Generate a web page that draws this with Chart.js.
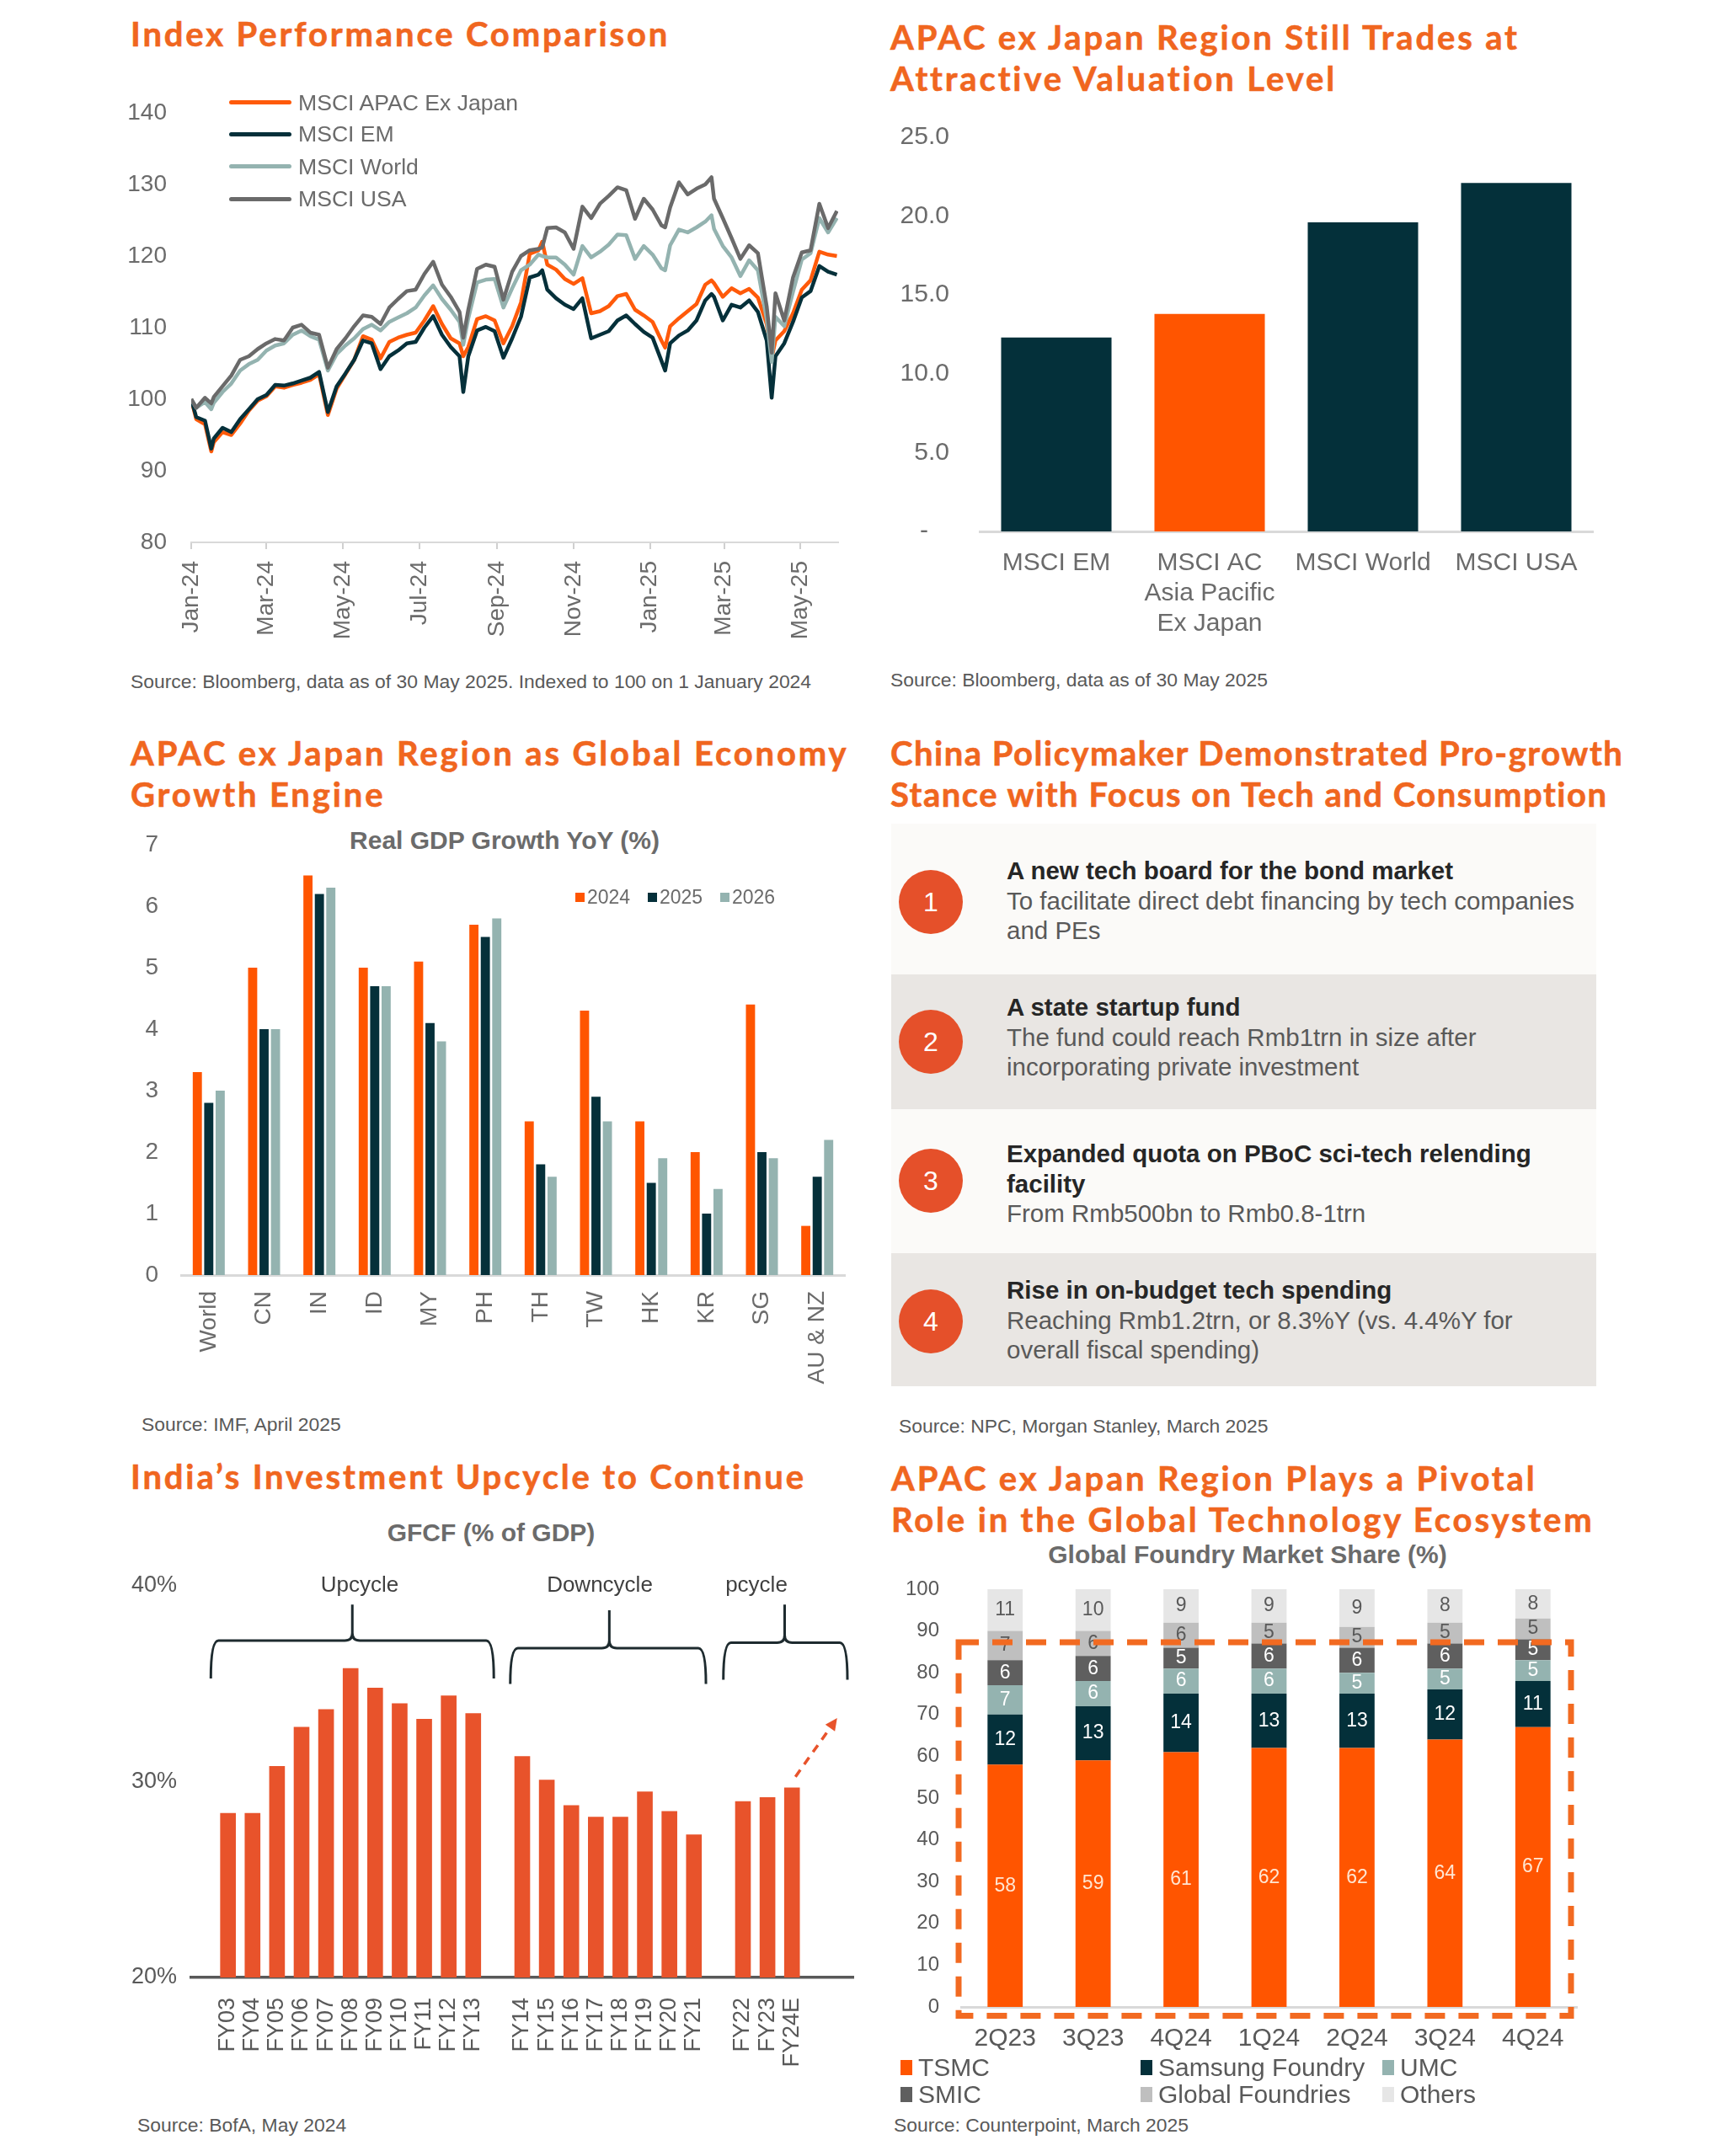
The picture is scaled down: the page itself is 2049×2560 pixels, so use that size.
<!DOCTYPE html>
<html>
<head>
<meta charset="utf-8">
<script src="https://cdn.jsdelivr.net/npm/chart.js@4.4.1/dist/chart.umd.min.js"></script>
<style>
  html, body { margin: 0; padding: 0; background: #fff; }
  body { width: 2049px; height: 2560px; position: relative; overflow: hidden; font-family: "Liberation Sans", Arial, sans-serif; }
  canvas { position: absolute; }
  .title { position: absolute; font-family: Lato, sans-serif; font-weight: 700; font-size: 40px; line-height: 49px; letter-spacing: 2.85px;
    color: #F0661F; -webkit-text-stroke: 0.6px #F0661F; white-space: nowrap; }
  .src { position: absolute; font-size: 22.9px; line-height: 26px; color: #595959; white-space: nowrap; }
  .sub { position: absolute; width: 700px; text-align: center; font-weight: 700; font-size: 30px; line-height: 36px; color: #6b6b6b; white-space: nowrap; }
  .abs { position: absolute; white-space: nowrap; }
</style>
</head>
<body>

<div class="title" style="left:155px; top:16px;">Index Performance Comparison</div>
<div class="title" style="left:1057px; top:20px;">APAC ex Japan Region Still Trades at<br>Attractive Valuation Level</div>
<div class="title" style="left:155px; top:870px;">APAC ex Japan Region as Global Economy<br>Growth Engine</div>
<div class="title" style="left:1057px; top:870px; letter-spacing:1.5px;">China Policymaker Demonstrated Pro-growth<br>Stance with Focus on Tech and Consumption</div>
<div class="title" style="left:155px; top:1729px;">India’s Investment Upcycle to Continue</div>
<div class="title" style="left:1058px; top:1731px;">APAC ex Japan Region Plays a Pivotal<br>Role in the Global Technology Ecosystem</div>

<div class="src" style="left:155px; top:796px;">Source: Bloomberg, data as of 30 May 2025. Indexed to 100 on 1 January 2024</div>
<div class="src" style="left:1057px; top:794px;">Source: Bloomberg, data as of 30 May 2025</div>
<div class="src" style="left:168px; top:1678px;">Source: IMF, April 2025</div>
<div class="src" style="left:1067px; top:1680px;">Source: NPC, Morgan Stanley, March 2025</div>
<div class="src" style="left:163px; top:2510px;">Source: BofA, May 2024</div>
<div class="src" style="left:1061px; top:2510px;">Source: Counterpoint, March 2025</div>

<div class="sub" style="left:249px; top:980px;">Real GDP Growth YoY (%)</div>
<div class="sub" style="left:233px; top:1802px;">GFCF (% of GDP)</div>
<div class="sub" style="left:1131px; top:1828px;">Global Foundry Market Share (%)</div>

<canvas id="perf" width="880" height="690" style="left:140px; top:100px;"></canvas>
<canvas id="pe" width="900" height="640" style="left:1040px; top:130px;"></canvas>
<canvas id="gdp" width="880" height="720" style="left:140px; top:960px;"></canvas>
<canvas id="gfcf" width="900" height="660" style="left:140px; top:1850px;"></canvas>
<canvas id="foundry" width="900" height="580" style="left:1040px; top:1860px;"></canvas>

<div id="policy"></div>
<div id="legends"></div>

<script>
// ---- Index performance (weekly closes, indexed to 100) ----
const perfDates = ['2024-01-01','2024-01-05','2024-01-12','2024-01-17','2024-01-19','2024-01-26','2024-02-02','2024-02-09','2024-02-16','2024-02-23',
  '2024-03-01','2024-03-08','2024-03-15','2024-03-22','2024-03-29','2024-04-05','2024-04-12','2024-04-19','2024-04-26','2024-05-03',
  '2024-05-10','2024-05-17','2024-05-24','2024-05-31','2024-06-07','2024-06-14','2024-06-21','2024-06-28','2024-07-05','2024-07-12',
  '2024-07-19','2024-07-26','2024-08-02','2024-08-05','2024-08-09','2024-08-16','2024-08-23','2024-08-30','2024-09-06','2024-09-13',
  '2024-09-20','2024-09-27','2024-10-04','2024-10-07','2024-10-11','2024-10-18','2024-10-25','2024-11-01','2024-11-08','2024-11-15',
  '2024-11-22','2024-11-29','2024-12-06','2024-12-13','2024-12-20','2024-12-27','2025-01-03','2025-01-10','2025-01-13','2025-01-17',
  '2025-01-24','2025-01-31','2025-02-07','2025-02-14','2025-02-19','2025-02-21','2025-02-28','2025-03-07','2025-03-14','2025-03-21',
  '2025-03-28','2025-04-04','2025-04-08','2025-04-11','2025-04-18','2025-04-25','2025-05-02','2025-05-09','2025-05-16','2025-05-23',
  '2025-05-30'];
const apacExJapan = [100, 97.2, 96.5, 92.7, 94.0, 95.4, 95.0, 96.6, 98.4, 99.8,
  100.4, 101.8, 101.6, 102.0, 102.3, 102.7, 103.5, 97.8, 101.5, 103.5,
  105.5, 108.8, 108.3, 105.7, 108.0, 108.6, 109.0, 109.3, 111.0, 113.0,
  110.5, 108.5, 107.8, 106.0, 107.3, 111.2, 111.6, 111.0, 107.8, 110.2,
  113.5, 120.3, 120.8, 122.0, 118.8, 118.1, 116.8, 116.1, 116.9, 112.0,
  112.3, 113.0, 114.4, 114.7, 112.5, 111.7, 110.8, 108.2, 107.2, 110.2,
  111.3, 112.3, 113.3, 116.0, 116.6, 116.2, 114.3, 115.5, 114.8, 115.4,
  114.2, 110.5, 105.8, 108.2, 109.5, 112.0, 115.3, 116.6, 120.6, 120.2,
  120.0];
const msciEm = [100, 97.5, 97.0, 93.1, 94.5, 96.0, 95.4, 97.2, 98.6, 100.0,
  100.6, 102.0, 101.9, 102.2, 102.6, 103.0, 103.8, 98.2, 101.8, 103.6,
  105.5, 108.2, 107.8, 104.2, 106.0, 106.8, 107.8, 108.0, 110.0, 111.6,
  109.0, 107.3, 106.0, 101.0, 106.0, 109.6, 110.1, 109.5, 105.8, 108.5,
  111.5, 117.0, 117.4, 118.0, 115.3, 114.1, 113.2, 112.6, 114.1, 108.5,
  109.0, 109.5, 111.0, 111.7, 110.5, 109.4, 108.6, 105.4, 104.0, 107.8,
  108.9, 109.6, 111.0, 113.8, 114.7, 114.3, 111.0, 113.2, 112.8, 113.8,
  112.2, 108.2, 100.2, 106.0, 107.8, 110.8, 114.2, 115.1, 118.6, 117.8,
  117.4];
const msciWorld = [100, 98.8, 99.6, 98.6, 99.5, 101.0, 102.2, 104.0, 104.9, 105.5,
  106.8, 107.5, 107.8, 109.0, 109.6, 108.8, 108.3, 104.0, 106.3, 107.5,
  108.5, 109.8, 110.4, 109.6, 110.8, 111.4, 112.0, 112.8, 114.5, 115.9,
  114.0, 112.5, 110.8, 107.6, 111.3, 116.3, 116.7, 116.8, 112.8, 115.5,
  118.0, 118.8, 120.2, 120.0, 119.8, 119.8, 118.8, 117.4, 121.4, 119.8,
  120.6, 121.6, 123.0, 122.9, 119.6, 121.4, 120.2, 118.3, 118.0, 121.5,
  123.7, 123.3, 124.0, 124.8, 125.7, 123.8, 121.4, 119.8, 117.2, 119.4,
  118.0, 111.2, 105.2, 111.5, 110.2, 115.0, 119.5, 120.4, 125.3, 123.3,
  125.3];
const msciUsa = [100, 98.8, 100.2, 99.4, 100.3, 101.8, 103.3, 105.5, 106.0, 107.0,
  107.8, 108.4, 108.2, 110.0, 110.4, 109.3, 109.0, 104.4, 107.0, 108.5,
  110.2, 111.7, 111.5, 110.5, 112.8, 114.0, 115.1, 115.3, 117.5, 119.2,
  116.0, 114.3, 112.2, 108.6, 112.5, 118.2, 118.8, 118.5, 113.9, 117.8,
  120.0, 120.8, 121.0, 121.2, 123.9, 124.0, 123.3, 121.0, 126.9, 125.3,
  127.3, 128.4, 129.6, 129.2, 125.2, 128.0, 126.5, 124.3, 124.0, 126.8,
  130.3, 128.6, 129.4, 130.0, 131.0, 128.0, 125.3, 122.5, 119.6, 121.5,
  120.4, 113.0, 106.5, 114.8, 111.0, 117.0, 120.5, 120.8, 127.3, 123.9,
  126.3];
const perfTickDates = ['2024-01-01','2024-03-01','2024-05-01','2024-07-01','2024-09-01','2024-11-01','2025-01-01','2025-03-01','2025-05-01'];
const perfTickLabels = ['Jan-24','Mar-24','May-24','Jul-24','Sep-24','Nov-24','Jan-25','Mar-25','May-25'];
const perfNames = ['MSCI APAC Ex Japan', 'MSCI EM', 'MSCI World', 'MSCI USA'];

// ---- Valuation (P/E) ----
const peLabels = [['MSCI EM'], ['MSCI AC', 'Asia Pacific', 'Ex Japan'], ['MSCI World'], ['MSCI USA']];
const peValues = [12.3, 13.8, 19.6, 22.1];

// ---- Real GDP growth ----
const gdpCountries = ['World', 'CN', 'IN', 'ID', 'MY', 'PH', 'TH', 'TW', 'HK', 'KR', 'SG', 'AU & NZ'];
const gdpYears = ['2024', '2025', '2026'];
const gdp2024 = [3.3, 5.0, 6.5, 5.0, 5.1, 5.7, 2.5, 4.3, 2.5, 2.0, 4.4, 0.8];
const gdp2025 = [2.8, 4.0, 6.2, 4.7, 4.1, 5.5, 1.8, 2.9, 1.5, 1.0, 2.0, 1.6];
const gdp2026 = [3.0, 4.0, 6.3, 4.7, 3.8, 5.8, 1.6, 2.5, 1.9, 1.4, 1.9, 2.2];

// ---- India GFCF (% of GDP); blanks separate the cycles ----
const gfcfYears = ['', 'FY03', 'FY04', 'FY05', 'FY06', 'FY07', 'FY08', 'FY09', 'FY10', 'FY11', 'FY12', 'FY13', '',
  'FY14', 'FY15', 'FY16', 'FY17', 'FY18', 'FY19', 'FY20', 'FY21', '', 'FY22', 'FY23', 'FY24E', '', ''];
const gfcfValues = [null, 28.4, 28.4, 30.8, 32.8, 33.7, 35.8, 34.8, 34.0, 33.2, 34.4, 33.5, null,
  31.3, 30.1, 28.8, 28.2, 28.2, 29.5, 28.5, 27.3, null, 29.0, 29.2, 29.7, null, null];

// ---- Foundry market share ----
const foundryQuarters = ['2Q23', '3Q23', '4Q24', '1Q24', '2Q24', '3Q24', '4Q24'];
const foundryNames = ['TSMC', 'Samsung Foundry', 'UMC', 'SMIC', 'Global Foundries', 'Others'];
const tsmc = [58, 59, 61, 62, 62, 64, 67];
const samsung = [12, 13, 14, 13, 13, 12, 11];
const umc = [7, 6, 6, 6, 5, 5, 5];
const smic = [6, 6, 5, 6, 6, 6, 5];
const globalFoundries = [7, 6, 6, 5, 5, 5, 5];
const others = [11, 10, 9, 9, 9, 8, 8];

// ---- Policy list ----
const policyHeads = [['A new tech board for the bond market'], ['A state startup fund'],
  ['Expanded quota on PBoC sci-tech relending', 'facility'], ['Rise in on-budget tech spending']];
const policyNotes = [['To facilitate direct debt financing by tech companies', 'and PEs'],
  ['The fund could reach Rmb1trn in size after', 'incorporating private investment'],
  ['From Rmb500bn to Rmb0.8-1trn'],
  ['Reaching Rmb1.2trn, or 8.3%Y (vs. 4.4%Y for', 'overall fiscal spending)']];

const ORANGE = '#FF5A0A', DARK = '#05303A', TEAL = '#94B3B0', GREY = '#6A6A6A';

Chart.defaults.font.family = '"Liberation Sans", Arial, sans-serif';
Chart.defaults.color = '#6b6b6b';
Chart.defaults.animation = false;
Chart.defaults.responsive = false;
Chart.defaults.plugins.legend.display = false;
Chart.defaults.plugins.tooltip.enabled = false;

const noGrid = { display: false, drawTicks: false };
// fixed axis sizes so the plot areas land where the reference has them
const yFit = w => s => { s.width = w; s.paddingTop = 0; s.paddingBottom = 0; };
const xFit = h => s => { s.height = h; s.paddingLeft = 0; s.paddingRight = 0; };

// ---------- chart 1: index performance ----------
const dayOf = d => (Date.parse(d) - Date.parse('2024-01-01')) / 86400000;
const toXY = vals => perfDates.map((d, i) => ({ x: dayOf(d), y: vals[i] }));
const perfColors = [ORANGE, DARK, TEAL, GREY];
const perfSeries = [apacExJapan, msciEm, msciWorld, msciUsa];

new Chart(document.getElementById('perf'), {
  type: 'line',
  data: {
    datasets: perfSeries.map((s, i) => ({
      label: perfNames[i], data: toXY(s), borderColor: perfColors[i], order: 4 - i
    }))
  },
  options: {
    layout: { padding: { top: 34, right: 25 } },
    elements: { point: { radius: 0 }, line: { borderWidth: 4.5, tension: 0, borderJoinStyle: 'round' } },
    scales: {
      x: {
        type: 'linear', min: 0, max: 516,
        afterBuildTicks: s => { s.ticks = perfTickDates.map(d => ({ value: dayOf(d) })); },
        afterFit: xFit(146),
        grid: { drawOnChartArea: false, tickLength: 8, color: '#d0d0d0', lineWidth: 2 },
        border: { color: '#d9d9d9', width: 2 },
        ticks: { autoSkip: false, minRotation: 90, maxRotation: 90, padding: 14, font: { size: 28 },
          callback: (v, i) => perfTickLabels[i] }
      },
      y: {
        min: 80, max: 140,
        afterFit: yFit(87),
        grid: noGrid, border: { display: false },
        ticks: { stepSize: 10, padding: 29, font: { size: 28 } }
      }
    }
  }
});

// ---------- chart 2: valuation ----------
new Chart(document.getElementById('pe'), {
  type: 'bar',
  data: {
    labels: peLabels,
    datasets: [{ data: peValues, backgroundColor: peValues.map((v, i) => i === 1 ? '#FF5500' : '#04303A'),
      categoryPercentage: 0.8, barPercentage: 0.9 }]
  },
  options: {
    layout: { padding: { top: 33, right: 49 } },
    scales: {
      x: {
        grid: noGrid, border: { color: '#d9d9d9', width: 3 },
        afterFit: xFit(139),
        ticks: { padding: 20, maxRotation: 0, font: { size: 30 } }
      },
      y: {
        min: 0, max: 25,
        afterFit: yFit(123),
        grid: noGrid, border: { display: false },
        ticks: { stepSize: 5, padding: 36, font: { size: 30 }, callback: v => v === 0 ? '-   ' : v.toFixed(1) }
      }
    }
  }
});

// ---------- chart 3: GDP growth ----------
const gdpColors = ['#FF5500', '#05303A', '#94B3B0'];
new Chart(document.getElementById('gdp'), {
  type: 'bar',
  data: {
    labels: gdpCountries,
    datasets: [gdp2024, gdp2025, gdp2026].map((s, i) => ({
      label: gdpYears[i], data: s, backgroundColor: gdpColors[i], categoryPercentage: 0.62, barPercentage: 0.8
    }))
  },
  options: {
    layout: { padding: { top: 43, right: 17 } },
    scales: {
      x: {
        grid: noGrid, border: { color: '#d9d9d9', width: 3 },
        afterFit: xFit(166),
        ticks: { minRotation: 90, maxRotation: 90, padding: 19, font: { size: 28 } }
      },
      y: {
        min: 0, max: 7,
        afterFit: yFit(75),
        grid: noGrid, border: { display: false },
        ticks: { stepSize: 1, padding: 27, font: { size: 28 } }
      }
    }
  }
});

// ---------- chart 4: GFCF ----------
const gfcfBrackets = [
  { label: 'Upcycle', from: 0.3, to: 11.84, stem: 6.07, labelAt: 6.37, bar: 37.2, end: 35.27, top: 39.04 },
  { label: 'Downcycle', from: 12.51, to: 20.49, stem: 16.55, labelAt: 16.16, bar: 36.82, end: 34.99, top: 38.75 },
  { label: 'pcycle', from: 21.2, to: 26.26, stem: 23.7, labelAt: 22.55, bar: 37.1, end: 35.2, top: 39.04 }
];
const gfcfArrow = { fromX: 24.14, fromY: 30.25, toX: 25.84, toY: 33.25 };

const gfcfNotes = {
  id: 'gfcfNotes',
  afterDatasetsDraw(chart) {
    const { ctx, scales: { x, y } } = chart;
    ctx.save();
    ctx.strokeStyle = '#1e2b2f';
    ctx.lineWidth = 3;
    ctx.lineJoin = 'round';
    ctx.font = '26px "Liberation Sans", Arial, sans-serif';
    ctx.fillStyle = '#404040';
    ctx.textAlign = 'center';
    ctx.textBaseline = 'middle';
    gfcfBrackets.forEach(b => {
      const x0 = x.getPixelForValue(b.from), x1 = x.getPixelForValue(b.to), xm = x.getPixelForValue(b.stem);
      const yb = y.getPixelForValue(b.bar), ye = y.getPixelForValue(b.end), yt = y.getPixelForValue(b.top);
      const r = 9;
      ctx.beginPath();
      ctx.moveTo(x0, ye);
      ctx.quadraticCurveTo(x0, yb, x0 + r, yb);
      ctx.lineTo(xm - r, yb);
      ctx.quadraticCurveTo(xm, yb, xm, yb - r);
      ctx.lineTo(xm, yt);
      ctx.moveTo(xm, yb - r);
      ctx.quadraticCurveTo(xm, yb, xm + r, yb);
      ctx.lineTo(x1 - r, yb);
      ctx.quadraticCurveTo(x1, yb, x1, ye);
      ctx.stroke();
      ctx.fillText(b.label, x.getPixelForValue(b.labelAt), y.getPixelForValue(40));
    });
    // dashed arrow
    const ax0 = x.getPixelForValue(gfcfArrow.fromX), ay0 = y.getPixelForValue(gfcfArrow.fromY);
    const ax1 = x.getPixelForValue(gfcfArrow.toX), ay1 = y.getPixelForValue(gfcfArrow.toY);
    const ang = Math.atan2(ay1 - ay0, ax1 - ax0), head = 16;
    ctx.strokeStyle = '#E8532B';
    ctx.fillStyle = '#E8532B';
    ctx.lineWidth = 3.5;
    ctx.setLineDash([10, 8]);
    ctx.beginPath();
    ctx.moveTo(ax0, ay0);
    ctx.lineTo(ax1 - head * Math.cos(ang), ay1 - head * Math.sin(ang));
    ctx.stroke();
    ctx.setLineDash([]);
    ctx.beginPath();
    ctx.moveTo(ax1, ay1);
    ctx.lineTo(ax1 - head * Math.cos(ang - 0.45), ay1 - head * Math.sin(ang - 0.45));
    ctx.lineTo(ax1 - head * Math.cos(ang + 0.45), ay1 - head * Math.sin(ang + 0.45));
    ctx.closePath();
    ctx.fill();
    ctx.restore();
  }
};

new Chart(document.getElementById('gfcf'), {
  type: 'bar',
  data: {
    labels: gfcfYears,
    datasets: [{ data: gfcfValues, backgroundColor: '#E8532B', categoryPercentage: 1, barPercentage: 0.64 }]
  },
  options: {
    layout: { padding: { top: 33, right: 27 } },
    scales: {
      x: {
        grid: noGrid, border: { color: '#595959', width: 3.5 },
        afterFit: xFit(162),
        ticks: { autoSkip: false, minRotation: 90, maxRotation: 90, padding: 24, font: { size: 27 }, color: '#595959' }
      },
      y: {
        min: 20, max: 40,
        afterFit: yFit(87),
        grid: noGrid, border: { display: false },
        ticks: { stepSize: 10, padding: 17, font: { size: 27 }, color: '#595959', callback: v => v + '%' }
      }
    }
  },
  plugins: [gfcfNotes]
});

// ---------- chart 5: foundry share ----------
const foundryColors = ['#FF5500', '#04303A', '#94B3B0', '#5F5F5F', '#BFBFBF', '#E6E6E6'];
const foundryLabelColors = ['#FFE6D2', '#FFFFFF', '#FFFFFF', '#FFFFFF', '#595959', '#595959'];
const foundryFrame = { top: 87.3, bottom: -2.1 };

const foundryExtras = {
  id: 'foundryExtras',
  afterDatasetsDraw(chart) {
    const { ctx, chartArea, scales: { y } } = chart;
    ctx.save();
    ctx.font = '23px "Liberation Sans", Arial, sans-serif';
    ctx.textAlign = 'center';
    ctx.textBaseline = 'middle';
    chart.data.datasets.forEach((ds, di) => {
      ctx.fillStyle = foundryLabelColors[di];
      chart.getDatasetMeta(di).data.forEach((bar, i) => {
        const top = Math.max(bar.y, chartArea.top);
        ctx.fillText(String(ds.data[i]), bar.x, (top + bar.base) / 2);
      });
    });
    const top = y.getPixelForValue(foundryFrame.top), bottom = y.getPixelForValue(foundryFrame.bottom);
    ctx.setLineDash([24, 16]);
    ctx.lineWidth = 7;
    ctx.strokeStyle = '#F26A21';
    ctx.strokeRect(chartArea.left - 3, top, chartArea.right - chartArea.left - 4, bottom - top);
    ctx.restore();
  }
};

new Chart(document.getElementById('foundry'), {
  type: 'bar',
  data: {
    labels: foundryQuarters,
    datasets: [tsmc, samsung, umc, smic, globalFoundries, others].map((s, i) => ({
      label: foundryNames[i], data: s, backgroundColor: foundryColors[i], categoryPercentage: 1, barPercentage: 0.4
    }))
  },
  options: {
    layout: { padding: { top: 27, right: 68 } },
    scales: {
      x: {
        stacked: true,
        grid: noGrid, border: { color: '#d9d9d9', width: 3 },
        afterFit: xFit(57),
        ticks: { padding: 20, font: { size: 30 }, color: '#595959' }
      },
      y: {
        stacked: true, min: 0, max: 100,
        afterFit: yFit(101),
        grid: noGrid, border: { display: false },
        ticks: { stepSize: 10, padding: 26, font: { size: 24 }, color: '#595959' }
      }
    }
  },
  plugins: [foundryExtras]
});

// ---------- HTML legends and policy boxes ----------
const legends = document.getElementById('legends');
function add(parent, css, html) {
  const d = document.createElement('div');
  d.className = 'abs';
  d.style.cssText = css;
  if (html !== undefined) d.innerHTML = html;
  parent.appendChild(d);
  return d;
}

// index performance legend
[121.5, 159.4, 197.7, 236].forEach((cy, i) => {
  add(legends, `left:272px; top:${cy - 2.5}px; width:74px; height:5px; border-radius:3px; background:${perfColors[i]};`);
  add(legends, `left:354px; top:${cy - 16}px; font-size:26.6px; line-height:32px; color:#6b6b6b;`, perfNames[i]);
});

// gdp legend
[683, 769, 855].forEach((lx, i) => {
  add(legends, `left:${lx}px; top:1060px; width:11px; height:11px; background:${gdpColors[i]};`);
  add(legends, `left:${lx + 14}px; top:1051px; font-size:23px; line-height:28px; color:#6b6b6b;`, gdpYears[i]);
});

// foundry legend
const fCols = [1069, 1354, 1641];
foundryNames.forEach((name, i) => {
  const cx = fCols[i % 3], cy = i < 3 ? 2455 : 2487;
  add(legends, `left:${cx}px; top:${cy - 9}px; width:14px; height:18px; background:${foundryColors[i]};`);
  add(legends, `left:${cx + 21}px; top:${cy - 18}px; font-size:30px; line-height:36px; color:#595959;`, name);
});

// policy boxes
const policy = document.getElementById('policy');
const boxes = [[978, 1157], [1157, 1317], [1317, 1488], [1488, 1646]];
const circleY = [1071, 1237, 1402, 1569];
const headY = [1034, 1196, 1370, 1532];
boxes.forEach(([t, b], i) => {
  add(policy, `left:1058px; top:${t}px; width:837px; height:${b - t}px; background:${i % 2 ? '#E9E6E3' : '#FBFAF8'};`);
  add(policy, `left:1067px; top:${circleY[i] - 38}px; width:76px; height:76px; border-radius:50%; background:#E5502A;
    color:#fff; font-size:32px; line-height:76px; text-align:center;`, String(i + 1));
  const lines = policyHeads[i].map(s => `<div style="font-weight:700; color:#262626;">${s}</div>`)
    .concat(policyNotes[i].map(s => `<div style="color:#595959;">${s}</div>`)).join('');
  add(policy, `left:1195px; top:${headY[i] - 18}px; font-size:29.5px; line-height:35.5px;`, lines);
});
</script>
</body>
</html>
